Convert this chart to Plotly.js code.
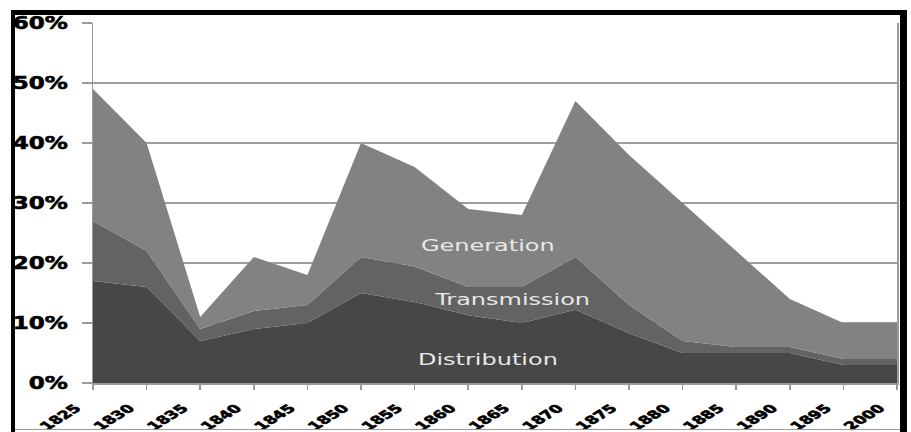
<!DOCTYPE html>
<html>
<head>
<meta charset="utf-8">
<script src="https://cdn.plot.ly/plotly-3.0.1.min.js"></script>
<style>
  html, body { margin: 0; padding: 0; background: #fff; }
  #wrap { position: relative; width: 911px; height: 432px; overflow: hidden; }
  #chart { position: absolute; left: 0; top: 0; width: 911px; height: 432px; }
  #frame { position: absolute; left: 11px; top: 10px; width: 885px; height: 460px;
           border-left: 4px solid #000; border-top: 5px solid #000; border-right: 7px solid #000;
           pointer-events: none; z-index: 5; }
  #bottomline { position: absolute; left: 15px; top: 429px; width: 885px; height: 0;
           border-top: 1.5px solid #9a9a9a; pointer-events: none; z-index: 5; }
  .yaxislayer-above g.ytick { transform: scaleX(1.28); transform-box: fill-box; transform-origin: right center; }
  .yaxislayer-above g.ytick text { stroke: #000; stroke-width: 0.6px; }
  .xaxislayer-above g.xtick { transform: translate(-14px, 8px) scaleX(1.6); transform-box: fill-box; transform-origin: right top; }
  .xaxislayer-above g.xtick text { stroke: #000; stroke-width: 0.6px; }
  .annotation-text { transform: scaleX(1.5); transform-box: fill-box; transform-origin: center; }
</style>
</head>
<body>
<div id="wrap">
  <div id="chart"></div>
  <div id="frame"></div>
  <div id="bottomline"></div>
</div>
<script>
// Category labels (as printed on the chart)
var years = ["1825","1830","1835","1840","1845","1850","1855","1860","1865","1870","1875","1880","1885","1890","1895","2000"];

// Stacked layer values (percent), bottom to top
var distribution = [17, 16, 7, 9, 10, 15, 13.5, 11.3, 10, 12.2, 8.3, 5, 5, 5, 3, 3];
var transmission = [10, 6, 2, 3, 3, 6, 5.9, 4.7, 6, 8.8, 4.7, 2, 1, 1, 1, 1];
var generation   = [22, 18, 2, 9, 5, 19, 16.6, 13, 12, 26, 25, 23, 16, 8, 6, 6];

var layerNames  = ["Distribution", "Transmission", "Generation"];
var layerColors = ["#474747", "#636363", "#828282"];
var layerValues = [distribution, transmission, generation];

var traces = layerValues.map(function (vals, i) {
  return {
    type: "scatter",
    mode: "lines",
    x: years,
    y: vals,
    name: layerNames[i],
    stackgroup: "one",
    line: { width: 0, color: layerColors[i] },
    fillcolor: layerColors[i],
    hoverinfo: "skip"
  };
});

var labelFont = { family: "DejaVu Sans, Arial, sans-serif", size: 16, color: "#e8e8e8" };

var layout = {
  width: 911,
  height: 432,
  margin: { l: 93, r: 14, t: 23, b: 49, pad: 0 },
  paper_bgcolor: "#ffffff",
  plot_bgcolor: "#ffffff",
  showlegend: false,
  xaxis: {
    type: "category",
    range: [0, years.length - 1],
    showgrid: false,
    showline: true,
    linecolor: "#9a9a9a",
    linewidth: 1.5,
    ticks: "outside",
    ticklen: 5,
    tickwidth: 1.5,
    tickcolor: "#9a9a9a",
    tickangle: -45,
    tickfont: { family: "DejaVu Sans, Arial, sans-serif", size: 11, color: "#000", weight: "bold" },
    fixedrange: true
  },
  yaxis: {
    range: [0, 60],
    dtick: 10,
    ticksuffix: "%",
    showgrid: true,
    gridcolor: "#9e9e9e",
    gridwidth: 1.5,
    showline: true,
    mirror: true,
    linecolor: "#9a9a9a",
    linewidth: 1.5,
    ticks: "outside",
    ticklen: 10,
    tickwidth: 1.5,
    tickcolor: "#9a9a9a",
    ticklabelstandoff: 10,
    zeroline: false,
    tickfont: { family: "DejaVu Sans, Arial, sans-serif", size: 18, color: "#000", weight: "bold" },
    fixedrange: true
  },
  annotations: [
    { text: "Generation",   xref: "paper", yref: "paper", x: 0.491, y: 0.383, yanchor: "middle", xanchor: "center", showarrow: false, font: labelFont },
    { text: "Transmission", xref: "paper", yref: "paper", x: 0.521, y: 0.231, yanchor: "middle", xanchor: "center", showarrow: false, font: labelFont },
    { text: "Distribution", xref: "paper", yref: "paper", x: 0.491, y: 0.064, yanchor: "middle", xanchor: "center", showarrow: false, font: labelFont }
  ]
};

Plotly.newPlot("chart", traces, layout, { staticPlot: true, displayModeBar: false });
</script>
</body>
</html>
